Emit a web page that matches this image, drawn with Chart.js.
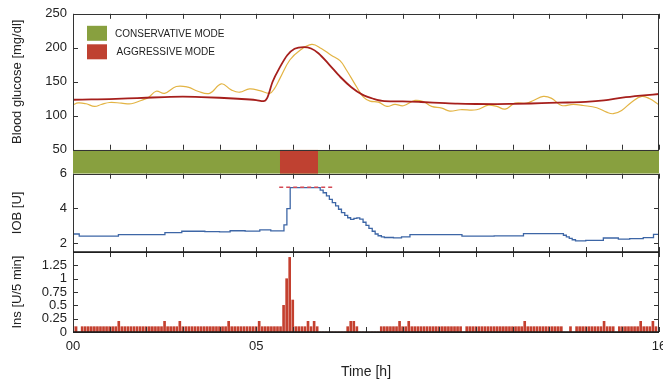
<!DOCTYPE html>
<html>
<head>
<meta charset="utf-8">
<script src="https://cdn.jsdelivr.net/npm/chart.js@4.4.0/dist/chart.umd.min.js"></script>
<style>
  html, body { margin: 0; padding: 0; background: #fff; }
</style>
</head>
<body>
<canvas id="myChart" width="663" height="384"></canvas>
<script>
// time axis (hours)
const xTickHours = [0,1,2,3,4,5,6,7,8,9,10,11,12,13,14,15,16];
const xLabelHours = [0, 5, 16];
const xLabels = ["00", "05", "16"];

// blood glucose: model curve (dark red) and sensor trace (yellow)
const bgModelTime = [0,0.5,1,1.5,2,2.5,3,3.5,4,4.5,5,5.2,5.3,5.45,5.65,5.85,6.05,6.3,6.5,6.7,7,7.3,7.6,7.9,8.2,8.5,9,9.5,10,10.5,11,11.5,12,12.5,13,13.5,14,14.5,15,15.5,16];
const bgModel = [123.5,124,124.5,125.5,126.5,127.5,128,127.5,126.5,125,123,121.5,126,150,171.5,189,198.5,201,199,192,175,157,142,131,125,121.5,121,120.2,119,117.8,117.3,117.2,117.5,118,118.8,119.5,120.3,122.5,126.5,129.5,132];
const cgmTime = [0,0.14,0.36,0.59,0.77,1.0,1.32,1.59,1.86,2.05,2.27,2.5,2.82,3.14,3.41,3.73,4.05,4.32,4.55,4.82,5.1,5.37,5.5,5.65,5.92,6.2,6.52,6.78,7.05,7.29,7.47,7.75,7.93,8.11,8.34,8.57,8.79,9.02,9.34,9.57,9.79,10.07,10.29,10.57,11.02,11.34,11.57,11.8,12.07,12.39,12.57,12.84,13.07,13.34,13.66,13.93,14.3,14.57,14.75,14.98,15.25,15.53,15.75,16];
const cgm = [116,119,117.6,113.7,116.5,119.5,118.5,117.6,122.5,126.4,136,133,143,142,136,133,147,138,134.6,139.5,137,133,140,155,182,196.5,205,199,189,181,167,142,127.4,121.5,120,113.7,116.6,114.7,122.5,120.6,113.7,111.2,106.8,108.8,108.8,115.6,113.7,109.7,118.5,118.5,122.5,128.4,125.5,115.1,116.6,115.1,111.8,105.3,103,107.8,120,128.4,125,116];

// controller mode band
const modeLabels = ["CONSERVATIVE MODE", "AGGRESSIVE MODE"];
const modeColors = ["#88a03f", "#bf4131"];
const modeStart = [0, 5.65];
const modeEnd = [16, 6.69];

// insulin on board (stepped)
const iobTime = [0,0.17,1.24,2.51,2.97,3.6,4.0,4.29,4.7,5.1,5.4,5.76,5.84,5.93,6.75,6.83,6.92,7.0,7.08,7.17,7.25,7.33,7.42,7.5,7.58,7.67,7.75,7.83,7.92,8.0,8.08,8.17,8.25,8.33,8.42,8.5,8.75,8.97,9.2,10.62,11.5,12.3,13.39,13.47,13.55,13.63,13.72,14.0,14.48,14.89,15.2,15.57,15.85,16];
const iob = [2.52,2.40,2.49,2.60,2.68,2.66,2.64,2.71,2.69,2.76,2.70,3.05,3.98,5.2,5.05,4.9,4.72,4.52,4.33,4.14,3.95,3.76,3.6,3.46,3.37,3.42,3.45,3.38,3.2,3.02,2.85,2.68,2.52,2.42,2.36,2.32,2.30,2.36,2.49,2.40,2.41,2.54,2.45,2.36,2.27,2.19,2.13,2.15,2.29,2.22,2.25,2.31,2.50,2.50];
const iobCapTime = [5.63, 7.1];
const iobCap = [5.22, 5.22];

// insulin delivered per 5 min (one row per hour)
const insulin = [
  0.1,0.1,0,0.1,0.1,0.1,0.1,0.1,0.1,0.1,0.1,0.1,
  0.1,0.1,0.1,0.2,0.1,0.1,0.1,0.1,0.1,0.1,0.1,0.1,
  0.1,0.1,0.1,0.1,0.1,0.1,0.2,0.1,0.1,0.1,0.1,0.2,
  0.1,0.1,0.1,0.1,0.1,0.1,0.1,0.1,0.1,0.1,0.1,0.1,
  0.1,0.1,0.1,0.2,0.1,0.1,0.1,0.1,0.1,0.1,0.1,0.1,
  0.1,0.2,0.1,0.1,0.1,0.1,0.1,0.1,0.1,0.5,1.0,1.4,
  0.6,0.1,0.1,0.1,0.1,0.2,0.1,0.2,0.1,0,0,0,
  0,0,0,0,0,0,0.1,0.2,0.2,0.1,0,0,
  0,0,0,0,0,0.1,0.1,0.1,0.1,0.1,0.1,0.2,
  0.1,0.1,0.2,0.1,0.1,0.1,0.1,0.1,0.1,0.1,0.1,0.1,
  0.1,0.1,0.1,0.1,0.1,0.1,0.1,0.1,0,0.1,0.1,0.1,
  0.1,0.1,0.1,0.1,0.1,0.1,0.1,0.1,0.1,0.1,0.1,0.1,
  0.1,0.1,0.1,0.1,0.2,0.1,0.1,0.1,0.1,0.1,0.1,0.1,
  0.1,0.1,0.1,0.1,0.1,0,0,0.1,0,0.1,0.1,0.1,
  0.1,0.1,0.1,0.1,0.1,0.1,0.2,0.1,0.1,0.1,0,0.1,
  0.1,0.1,0.1,0.1,0.1,0.1,0.2,0.1,0.1,0.1,0.2,0.1
];
const insTime = insulin.map((v, i) => i / 12);

const bgTicks = [50, 100, 150, 200, 250];
const iobTicks = [2, 4, 6];
const insTicks = [0, 0.25, 0.5, 0.75, 1, 1.25];

const pts = (xs, ys) => xs.map((x, i) => ({x: x, y: ys[i]}));

Chart.defaults.font.family = "'Liberation Sans', Arial, sans-serif";
Chart.defaults.color = "#222";

const setTicks = (list) => (s) => { s.ticks = list.map(v => ({value: v})); };
const fixWidth = (s) => { s.width = 73; };
const noGrid = { display: false, drawTicks: false };

const framePlugin = {
  id: "frame",
  afterDatasetsDraw(chart) {
    const {ctx, scales} = chart;
    const x = scales.x;
    ctx.save();
    ctx.strokeStyle = "#333";
    ctx.lineWidth = 1;
    ["yBG", "yIOB", "yIns"].forEach(id => {
      const s = scales[id];
      ctx.strokeRect(x.left + 0.5, Math.round(s.top) + 0.5, x.right - x.left - 1, Math.round(s.bottom - s.top));
      ctx.beginPath();
      xTickHours.forEach(h => {
        const px = Math.round(x.getPixelForValue(h)) + 0.5;
        ctx.moveTo(px, s.top); ctx.lineTo(px, s.top + 5);
        ctx.moveTo(px, s.bottom); ctx.lineTo(px, s.bottom - 5);
      });
      s.ticks.forEach(t => {
        const py = Math.round(s.getPixelForValue(t.value)) + 0.5;
        ctx.moveTo(x.left, py); ctx.lineTo(x.left + 5, py);
        ctx.moveTo(x.right, py); ctx.lineTo(x.right - 5, py);
      });
      ctx.stroke();
    });
    // heavier lines around the insulin panel
    const ins = scales.yIns;
    ctx.lineWidth = 1.6;
    ctx.strokeStyle = "#1a1a1a";
    ctx.beginPath();
    ctx.moveTo(x.left, ins.top); ctx.lineTo(x.right, ins.top);
    ctx.moveTo(x.left, ins.bottom); ctx.lineTo(x.right, ins.bottom);
    ctx.stroke();

    // legend
    const bg = scales.yBG;
    ctx.font = "10px 'Liberation Sans', Arial, sans-serif";
    ctx.textBaseline = "middle";
    modeLabels.forEach((lab, i) => {
      const top = bg.top + 12 + i * 18.5;
      ctx.fillStyle = modeColors[i];
      ctx.fillRect(x.left + 14, top, 20, 15);
      ctx.fillStyle = "#222";
      ctx.fillText(lab, x.left + 42 + i * 1.5, top + 8);
    });
    ctx.restore();
  }
};

new Chart(document.getElementById("myChart").getContext("2d"), {
  type: "line",
  data: {
    datasets: [
      {
        label: "Model",
        data: pts(bgModelTime, bgModel),
        yAxisID: "yBG",
        borderColor: "#a61f1c",
        borderWidth: 1.8,
        pointRadius: 0,
        cubicInterpolationMode: "monotone"
      },
      {
        label: "CGM",
        data: pts(cgmTime, cgm),
        yAxisID: "yBG",
        borderColor: "#e3b444",
        borderWidth: 1.2,
        pointRadius: 0,
        tension: 0.4
      },
      {
        label: "IOB limit",
        data: pts(iobCapTime, iobCap),
        yAxisID: "yIOB",
        borderColor: "#d44a55",
        borderWidth: 1.5,
        borderDash: [4, 3],
        pointRadius: 0
      },
      {
        label: "IOB",
        data: pts(iobTime, iob),
        yAxisID: "yIOB",
        borderColor: "#3d66a6",
        borderWidth: 1.3,
        pointRadius: 0,
        stepped: true
      },
      {
        type: "bar",
        label: "Insulin",
        data: pts(insTime, insulin),
        yAxisID: "yIns",
        backgroundColor: "#c4402f",
        borderWidth: 0,
        barThickness: 2
      },
      {
        label: modeLabels[1],
        data: pts([modeStart[1], modeEnd[1]], [1, 1]),
        yAxisID: "yMode",
        borderWidth: 0,
        pointRadius: 0,
        backgroundColor: modeColors[1],
        fill: "origin"
      },
      {
        label: modeLabels[0],
        data: pts([modeStart[0], modeEnd[0]], [1, 1]),
        yAxisID: "yMode",
        borderWidth: 0,
        pointRadius: 0,
        backgroundColor: modeColors[0],
        fill: "origin"
      }
    ]
  },
  options: {
    responsive: false,
    animation: false,
    devicePixelRatio: 1,
    layout: { padding: { left: 0, top: 13, right: 4, bottom: 0 } },
    plugins: { legend: { display: false }, tooltip: { enabled: false } },
    scales: {
      x: {
        type: "linear",
        min: 0, max: 16,
        offset: false,
        grid: noGrid,
        border: { display: false },
        afterBuildTicks: setTicks(xLabelHours),
        afterFit: (s) => { s.height = 52; s.paddingLeft = 0; s.paddingRight = 0; },
        ticks: {
          padding: 7,
          maxRotation: 0,
          autoSkip: false,
          font: { size: 13 },
          callback: (v, i) => xLabels[i]
        },
        title: { display: true, text: "Time [h]", font: { size: 14 }, padding: { top: 0, bottom: 3 } }
      },
      yIns: {
        type: "linear", position: "left", stack: "panels", stackWeight: 80, weight: 1,
        min: 0, max: 1.5,
        grid: noGrid, border: { display: false },
        afterBuildTicks: setTicks(insTicks), afterFit: fixWidth,
        ticks: { padding: 6, autoSkip: false, font: { size: 13 }, callback: (v) => String(v) },
        title: { display: true, text: "Ins [U/5 min]", font: { size: 13 }, padding: { top: 10, bottom: 0 } }
      },
      yIOB: {
        type: "linear", position: "left", stack: "panels", stackWeight: 78.4, weight: 2,
        min: 1.48, max: 6,
        grid: noGrid, border: { display: false },
        afterBuildTicks: setTicks(iobTicks), afterFit: fixWidth,
        ticks: { padding: 6, autoSkip: false, font: { size: 13 }, callback: (v) => String(v) },
        title: { display: true, text: "IOB [U]", font: { size: 13 }, padding: { top: 10, bottom: 0 } }
      },
      yMode: {
        type: "linear", position: "left", stack: "panels", stackWeight: 24, weight: 3,
        min: 0, max: 1,
        grid: noGrid, border: { display: false },
        afterFit: fixWidth,
        ticks: { display: false }
      },
      yBG: {
        type: "linear", position: "left", stack: "panels", stackWeight: 136, weight: 4,
        min: 50, max: 250,
        grid: noGrid, border: { display: false },
        afterBuildTicks: setTicks(bgTicks), afterFit: fixWidth,
        ticks: { padding: 6, autoSkip: false, font: { size: 13 } },
        title: { display: true, text: "Blood glucose [mg/dl]", font: { size: 13 }, padding: { top: 10, bottom: 0 } }
      }
    }
  },
  plugins: [framePlugin]
});
</script>
</body>
</html>
